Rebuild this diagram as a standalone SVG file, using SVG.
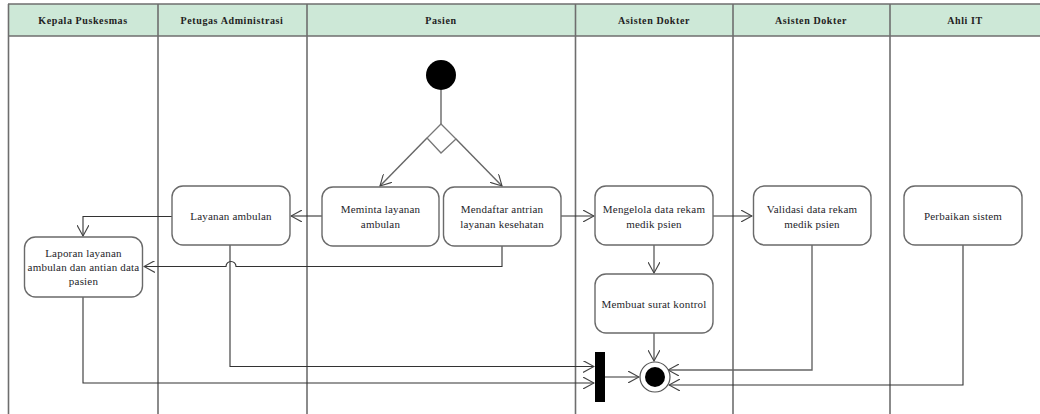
<svg xmlns="http://www.w3.org/2000/svg" width="1040" height="414" viewBox="0 0 1040 414">
<style>
.lane{stroke:#6e6e6e;stroke-width:1.6;fill:none}
.hdr{fill:#cde8d7;stroke:none}
.ht{font-family:"Liberation Serif",serif;font-size:10px;font-weight:bold;fill:#222;text-anchor:middle;letter-spacing:0.6px}
.box{fill:#fff;stroke:#6a6a6a;stroke-width:1.4}
.t{font-family:"Liberation Serif",serif;font-size:11px;fill:#1e1e2a;text-anchor:middle;letter-spacing:0.2px}
.c{fill:none;stroke:#333;stroke-width:1.1}
.cg{fill:none;stroke:#666;stroke-width:1.4}
</style>
<defs>
<marker id="ar" viewBox="0 0 12 12" refX="11" refY="6" markerWidth="12" markerHeight="12" markerUnits="userSpaceOnUse" orient="auto">
<path d="M0,0 L11,6 L0,12" fill="none" stroke="#444" stroke-width="1.1"/>
</marker>
</defs>
<rect width="1040" height="414" fill="#fff"/>
<g id="lanes">
<rect class="hdr" x="8" y="4" width="1032" height="32"/>
<line class="lane" x1="8" y1="4" x2="1040" y2="4" stroke="#aaa"/>
<line class="lane" x1="8" y1="36" x2="1040" y2="36" stroke-width="2"/>
<line class="lane" x1="8.5" y1="4" x2="8.5" y2="414"/>
<line class="lane" x1="158" y1="4" x2="158" y2="414"/>
<line class="lane" x1="307" y1="4" x2="307" y2="414"/>
<line class="lane" x1="575.5" y1="4" x2="575.5" y2="414"/>
<line class="lane" x1="733" y1="4" x2="733" y2="414"/>
<line class="lane" x1="890" y1="4" x2="890" y2="414"/>
<text class="ht" x="83" y="23.5">Kepala Puskesmas</text>
<text class="ht" x="232" y="23.5">Petugas Administrasi</text>
<text class="ht" x="441" y="23.5">Pasien</text>
<text class="ht" x="654" y="23.5">Asisten Dokter</text>
<text class="ht" x="811" y="23.5">Asisten Dokter</text>
<text class="ht" x="965" y="23.5">Ahli IT</text>
</g>
<g id="connectors">
<line class="cg" x1="441" y1="90" x2="441" y2="124"/>
<line class="cg" x1="427" y1="138" x2="380" y2="186" marker-end="url(#ar)"/>
<line class="cg" x1="456" y1="139" x2="502" y2="186" marker-end="url(#ar)"/>
<line class="c" x1="322" y1="216" x2="291" y2="216" marker-end="url(#ar)"/>
<polyline class="c" points="172,216.5 83,216.5 83,236" marker-end="url(#ar)"/>
<path class="c" d="M502,246 V266.5 H236 A5,5 0 0 0 226,266.5 H144" marker-end="url(#ar)"/>
<line class="c" x1="561" y1="216" x2="594" y2="216" marker-end="url(#ar)"/>
<line class="c" x1="713" y1="216" x2="752" y2="216" marker-end="url(#ar)"/>
<line class="cg" x1="654" y1="245" x2="654" y2="273" marker-end="url(#ar)"/>
<line class="cg" x1="654" y1="333" x2="654" y2="361" marker-end="url(#ar)"/>
<polyline class="c" points="230,245 230,366.5 594,366.5" marker-end="url(#ar)"/>
<polyline class="c" points="83,297 83,383 594,383" marker-end="url(#ar)"/>
<line class="c" x1="605" y1="377" x2="639" y2="377" marker-end="url(#ar)"/>
<polyline class="cg" points="812,245 812,370 668,370" marker-end="url(#ar)"/>
<polyline class="c" points="963,245 963,385 669,385" marker-end="url(#ar)"/>
</g>
<g id="start"><circle cx="441" cy="75" r="15" fill="#000"/></g>
<g id="decision"><polygon points="441,124 456,139 441,153 427,138" fill="#fff" stroke="#777" stroke-width="1.3"/></g>
<g id="n-layanan-ambulan">
<rect class="box" x="172" y="186" width="118" height="59" rx="11"/>
<text class="t" x="231" y="220">Layanan ambulan</text>
</g>
<g id="n-laporan">
<rect class="box" x="24.5" y="237" width="118" height="60" rx="11"/>
<text class="t" x="83.5" y="257">Laporan layanan</text>
<text class="t" x="83.5" y="271">ambulan dan antian data</text>
<text class="t" x="83.5" y="285">pasien</text>
</g>
<g id="n-meminta">
<rect class="box" x="322" y="187" width="117" height="59" rx="11"/>
<text class="t" x="380.5" y="213">Meminta layanan</text>
<text class="t" x="380.5" y="227.5">ambulan</text>
</g>
<g id="n-mendaftar">
<rect class="box" x="443.5" y="187" width="117.5" height="59" rx="11"/>
<text class="t" x="502" y="213">Mendaftar antrian</text>
<text class="t" x="502" y="227.5">layanan kesehatan</text>
</g>
<g id="n-mengelola">
<rect class="box" x="595" y="186" width="118" height="59" rx="11"/>
<text class="t" x="654" y="213">Mengelola data rekam</text>
<text class="t" x="654" y="227.5">medik psien</text>
</g>
<g id="n-validasi">
<rect class="box" x="753.5" y="186" width="117.5" height="59" rx="11"/>
<text class="t" x="812" y="213">Validasi data rekam</text>
<text class="t" x="812" y="227.5">medik psien</text>
</g>
<g id="n-perbaikan">
<rect class="box" x="904" y="186" width="118" height="59" rx="11"/>
<text class="t" x="963" y="220">Perbaikan sistem</text>
</g>
<g id="n-membuat">
<rect class="box" x="595" y="274" width="118" height="59" rx="11"/>
<text class="t" x="654" y="308">Membuat surat kontrol</text>
</g>
<g id="fork"><rect x="595" y="352" width="10" height="50" fill="#000"/></g>
<g id="end">
<circle cx="655" cy="377" r="15" fill="#fff" stroke="#555" stroke-width="1.2"/>
<circle cx="655" cy="377" r="10" fill="#000"/>
</g>
</svg>
